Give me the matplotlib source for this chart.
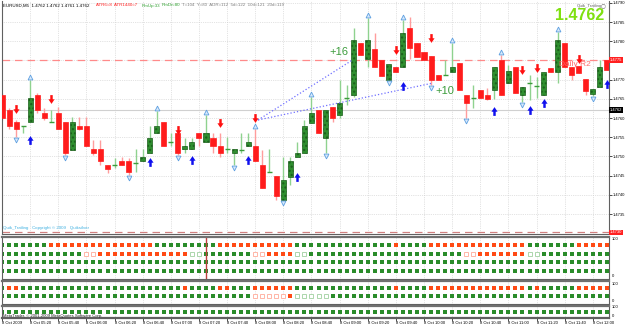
import numpy as np
import matplotlib
matplotlib.use("Agg")
import matplotlib.pyplot as plt
from matplotlib.path import Path
from matplotlib.patches import Rectangle
from matplotlib.transforms import ScaledTranslation

plt.rcParams["font.family"] = ["Liberation Sans", "DejaVu Sans"]

# EURUSD M5, 8 Oct 2009 05:00 .. 12:10
opens = [1.47660, 1.47621, 1.47590, 1.47579, 1.47590, 1.47660, 1.47613, 1.47590, 1.47613, 1.47590,
         1.47517, 1.47579, 1.47579, 1.47519, 1.47519, 1.47478, 1.47478, 1.47488, 1.47488, 1.47483,
         1.47488, 1.47509, 1.47561, 1.47590, 1.47538, 1.47561, 1.47519, 1.47519, 1.47561, 1.47538,
         1.47548, 1.47527, 1.47519, 1.47509, 1.47517, 1.47527, 1.47527, 1.47478, 1.47459, 1.47449,
         1.47386, 1.47446, 1.47498, 1.47509, 1.47587, 1.47621, 1.47548, 1.47629, 1.47608, 1.47652,
         1.47660, 1.47795, 1.47754, 1.47780, 1.47751, 1.47699, 1.47733, 1.47733, 1.47834, 1.47795,
         1.47772, 1.47761, 1.47712, 1.47712, 1.47720, 1.47743, 1.47660, 1.47652, 1.47673, 1.47660,
         1.47673, 1.47751, 1.47691, 1.47733, 1.47660, 1.47691, 1.47683, 1.47660, 1.47730, 1.47720,
         1.47795, 1.47733, 1.47735, 1.47702, 1.47662, 1.47681, 1.47751]
highs = [1.47665, 1.47626, 1.47595, 1.47579, 1.47699, 1.47665, 1.47626, 1.47621, 1.47629, 1.47590,
         1.47603, 1.47603, 1.47603, 1.47543, 1.47543, 1.47478, 1.47496, 1.47498, 1.47496, 1.47519,
         1.47519, 1.47579, 1.47618, 1.47590, 1.47561, 1.47561, 1.47548, 1.47548, 1.47561, 1.47608,
         1.47561, 1.47561, 1.47551, 1.47519, 1.47561, 1.47561, 1.47571, 1.47517, 1.47519, 1.47449,
         1.47498, 1.47498, 1.47538, 1.47595, 1.47655, 1.47621, 1.47621, 1.47629, 1.47699, 1.47686,
         1.47834, 1.47795, 1.47860, 1.47821, 1.47751, 1.47741, 1.47733, 1.47855, 1.47863, 1.47795,
         1.47772, 1.47761, 1.47712, 1.47751, 1.47795, 1.47743, 1.47660, 1.47686, 1.47673, 1.47678,
         1.47733, 1.47764, 1.47738, 1.47733, 1.47681, 1.47712, 1.47707, 1.47720, 1.47730, 1.47824,
         1.47795, 1.47733, 1.47735, 1.47702, 1.47676, 1.47751, 1.47751]
lows = [1.47595, 1.47571, 1.47551, 1.47561, 1.47590, 1.47613, 1.47595, 1.47590, 1.47571, 1.47504,
        1.47517, 1.47569, 1.47527, 1.47504, 1.47478, 1.47457, 1.47470, 1.47478, 1.47452, 1.47459,
        1.47488, 1.47509, 1.47561, 1.47527, 1.47527, 1.47504, 1.47509, 1.47519, 1.47527, 1.47538,
        1.47509, 1.47498, 1.47509, 1.47478, 1.47509, 1.47527, 1.47488, 1.47418, 1.47459, 1.47386,
        1.47386, 1.47426, 1.47498, 1.47509, 1.47587, 1.47561, 1.47509, 1.47590, 1.47600, 1.47634,
        1.47655, 1.47764, 1.47733, 1.47733, 1.47709, 1.47699, 1.47720, 1.47733, 1.47754, 1.47759,
        1.47751, 1.47686, 1.47699, 1.47712, 1.47720, 1.47673, 1.47600, 1.47626, 1.47652, 1.47647,
        1.47649, 1.47660, 1.47691, 1.47665, 1.47642, 1.47647, 1.47652, 1.47660, 1.47720, 1.47691,
        1.47733, 1.47699, 1.47717, 1.47660, 1.47657, 1.47681, 1.47725]
closes = [1.47600, 1.47579, 1.47571, 1.47579, 1.47652, 1.47621, 1.47600, 1.47590, 1.47571, 1.47509,
          1.47590, 1.47571, 1.47527, 1.47509, 1.47488, 1.47467, 1.47478, 1.47478, 1.47459, 1.47483,
          1.47498, 1.47548, 1.47579, 1.47527, 1.47538, 1.47509, 1.47527, 1.47538, 1.47548, 1.47561,
          1.47527, 1.47509, 1.47519, 1.47519, 1.47517, 1.47538, 1.47488, 1.47418, 1.47459, 1.47397,
          1.47439, 1.47488, 1.47509, 1.47579, 1.47613, 1.47561, 1.47621, 1.47600, 1.47639, 1.47652,
          1.47803, 1.47764, 1.47803, 1.47733, 1.47709, 1.47741, 1.47720, 1.47821, 1.47782, 1.47759,
          1.47751, 1.47699, 1.47699, 1.47712, 1.47733, 1.47673, 1.47639, 1.47652, 1.47652, 1.47649,
          1.47733, 1.47660, 1.47722, 1.47665, 1.47681, 1.47691, 1.47683, 1.47720, 1.47720, 1.47803,
          1.47733, 1.47712, 1.47717, 1.47670, 1.47676, 1.47733, 1.47725]

# signal arrows (bar index, price)
sell_idx = [2, 7, 25, 31, 36, 56, 61, 74, 76, 82]
sell_px = [1.47623, 1.47649, 1.47569, 1.47587, 1.47600, 1.47777, 1.47808, 1.47725, 1.47730, 1.47754]
buy_idx = [4, 21, 27, 35, 42, 57, 70, 75, 77, 86]
buy_px = [1.47543, 1.47485, 1.47491, 1.47491, 1.47446, 1.47683, 1.47618, 1.47621, 1.47639, 1.47689]

# fractals
frac_up = [4, 22, 29, 36, 44, 52, 57, 64, 71, 79]
frac_dn = [2, 9, 18, 25, 33, 40, 46, 55, 61, 66, 74, 84]

# trailing lines from the 08:00 signal
trail_x = [36.4, 49.8, 61.2]
trail_y = [1.47595, 1.47751, 1.47691]

r2_level = 1.47751
bid_level = 1.47621
low_level = 1.47302

price_ticks = [1.4735, 1.4740, 1.4745, 1.4750, 1.4755, 1.4760, 1.4765,
               1.4770, 1.4775, 1.4780, 1.4785, 1.4790]
price_labels = ["1.4735", "1.4740", "1.4745", "1.4750", "1.4755", "1.4760", "1.4765",
                "1.4770", "", "1.4780", "1.4785", "1.4790"]

time_pos = [0, 4, 8, 12, 16, 20, 24, 28, 32, 36, 40, 44, 48, 52, 56, 60, 64, 68, 72, 76, 80, 84]
time_labels = ["8 Oct 2009", "8 Oct 05:20", "8 Oct 05:40", "8 Oct 06:00", "8 Oct 06:20",
               "8 Oct 06:40", "8 Oct 07:00", "8 Oct 07:20", "8 Oct 07:40", "8 Oct 08:00",
               "8 Oct 08:20", "8 Oct 08:40", "8 Oct 09:00", "8 Oct 09:20", "8 Oct 09:40",
               "8 Oct 10:00", "8 Oct 10:20", "8 Oct 10:40", "8 Oct 11:00", "8 Oct 11:20",
               "8 Oct 11:40", "8 Oct 12:00"]

# trend dots: g=up, r=down, o=weak down, h=weak up
tf_row1 = ("ggggggg" "rrrrrrrrrrrrrrr" "ggggggggg" "rrrrrrrrrrr" "gggggggggggggg"
           "r" "gggg" "rrrrrrrrrrrrrr" "ggggggg" "rrrrr")
tf_row2 = ("gggggggggggg" "oo" "rrrrrrrrrrrrr" "hh" "ggggggg" "oo" "rrrr" "hh"
           "gggggggggggggggggggggg" "oo" "rrrrrrr" "hh" "gggggggggg")
tf_row3 = ("gggggggggg" "gggggggggg" "gggggggggg" "gggggggggg" "gggggggggg"
           "gggggggggg" "gggggggggg" "gggggggggg" "ggggggg")
tf_row4 = tf_row3
p2_row1 = ("g" "rr" "ggggggggggggggggggggggg" "r" "gggg" "rr" "ggg" "rrrrrr"
           "gggggggggggggg" "r" "gggg" "rrrrrrrrrrrrrr" "g" "r" "ggggg" "rrrrr")
p2_row2 = ("gggggggggggggggggggggggggggggggggggg" "ooooo" "r" "hhhhh"
           "gggggggggggggggggggggggggggggggggggggggg")
p3_row1 = tf_row3

W, H = 625, 327
fig = plt.figure(figsize=(6.25, 3.27), dpi=100)
fig.patch.set_facecolor("white")
small = 3.2


def box(x0, y0, x1, y1):
    return [x0 / W, 1 - y1 / H, (x1 - x0) / W, (y1 - y0) / H]


ax = fig.add_axes(box(2, 1, 609, 234))
ax1 = fig.add_axes(box(2, 237, 609, 279))
ax2 = fig.add_axes(box(2, 281, 609, 304))
ax3 = fig.add_axes(box(2, 306, 609, 318))

n = len(opens)
xs = np.arange(n)
bw = 0.36
for i in xs:
    o, h, l, c = opens[i], highs[i], lows[i], closes[i]
    bull = c >= o
    ax.vlines(i, l, h, color="#8fd28f" if bull else "#ff9d9d", lw=1, zorder=2)
    if abs(c - o) < 1e-6:
        ax.hlines(o, i - bw, i + bw, color="#3c9c3c", lw=1, zorder=3)
    elif bull:
        ax.add_patch(Rectangle((i - bw, o), 2 * bw, c - o, facecolor="#2f8f2f",
                               edgecolor="#1b5e1b", hatch="....", lw=0.5, zorder=3))
    else:
        ax.add_patch(Rectangle((i - bw, c), 2 * bw, o - c, facecolor="#ff1c1c",
                               edgecolor="#ff1c1c", lw=0.5, zorder=3))

down_arrow = Path([(-0.28, 1), (0.28, 1), (0.28, 0.05), (0.7, 0.05), (0, -1),
                   (-0.7, 0.05), (-0.28, 0.05), (-0.28, 1)], closed=True)
up_arrow = Path([(-0.28, -1), (0.28, -1), (0.28, -0.05), (0.7, -0.05), (0, 1),
                 (-0.7, -0.05), (-0.28, -0.05), (-0.28, -1)], closed=True)
ax.scatter(sell_idx, sell_px, marker=down_arrow, s=40, color="#ff1010", lw=0, zorder=5)
ax.scatter(buy_idx, buy_px, marker=up_arrow, s=40, color="#1010ee", lw=0, zorder=5)

up_off = ax.transData + ScaledTranslation(0, 0.03, fig.dpi_scale_trans)
dn_off = ax.transData + ScaledTranslation(0, -0.03, fig.dpi_scale_trans)
ax.plot(frac_up, [highs[i] for i in frac_up], "^", ms=3.5, mfc="#d6e8fb", mec="#5d9fe0",
        mew=0.6, transform=up_off, zorder=4)
ax.plot(frac_dn, [lows[i] for i in frac_dn], "v", ms=3.5, mfc="#d6e8fb", mec="#5d9fe0",
        mew=0.6, transform=dn_off, zorder=4)

ax.plot([trail_x[0], trail_x[1]], [trail_y[0], trail_y[1]], ls=":", color="#6f6fff", lw=0.9, zorder=4)
ax.plot([trail_x[0], trail_x[2]], [trail_y[0], trail_y[2]], ls=":", color="#6f6fff", lw=0.9, zorder=4)
ax.text(trail_x[1] - 0.6, trail_y[1] + 0.00008, "+16", color="#3c9c3c", fontsize=8,
        ha="right", va="bottom")
ax.text(trail_x[2] + 0.4, trail_y[2] - 0.00008, "+10", color="#3c9c3c", fontsize=8,
        ha="left", va="top")

ax.axhline(r2_level, color="#ff8a8a", lw=0.9, dashes=(6, 4), zorder=1)
ax.axhline(bid_level, color="#d0d0d0", lw=0.8, zorder=1)
ax.axhline(low_level, color="#d08080", lw=0.9, dashes=(6, 4), zorder=1)
ax.text(79.2, r2_level - 0.00003, "Daily R2", color="#ff6a6a", fontsize=6, va="top", ha="left")

ax.set_xlim(0.05, 86.3)
ax.set_ylim(1.47298, 1.47905)
ax.yaxis.tick_right()
ax.set_yticks(price_ticks)
ax.set_yticklabels(price_labels, fontsize=3.0)
ax.tick_params(axis="y", length=2, pad=0.5, width=0.5)
ax.set_xticks(time_pos)
ax.tick_params(axis="x", length=0, labelbottom=False)
ax.grid(True, ls=":", color="#c8c8c8", lw=0.5)
ax.set_axisbelow(True)

for p, txt, bg in [(r2_level, "1.4775", "#ff2020"), (bid_level, "1.4762", "#000000"),
                   (low_level, "1.4730", "#ff2020")]:
    ax.text(1.001, p, txt, transform=ax.get_yaxis_transform(), fontsize=3.0, color="white",
            va="center", ha="left",
            bbox=dict(boxstyle="square,pad=0.2", fc=bg, ec="none"), zorder=6, clip_on=False)

green, red = "#2a8c2a", "#ff4a14"


def dots(a, row, level):
    for i, ch in enumerate(row[:n]):
        if ch == "g":
            a.plot(i, level, "s", ms=2.7, color=green, mew=0)
        elif ch == "r":
            a.plot(i, level, "s", ms=2.7, color=red, mew=0)
        elif ch == "o":
            a.plot(i, level, "s", ms=2.4, mfc="white", mec="#ffaa99", mew=0.6)
        else:
            a.plot(i, level, "s", ms=2.4, mfc="white", mec="#9fd09f", mew=0.6)


dots(ax1, tf_row1, 4)
dots(ax1, tf_row2, 3)
dots(ax1, tf_row3, 2)
dots(ax1, tf_row4, 1)
ax1.set_ylim(0.1, 4.9)
ax1.axvline(29, color="#c04040", lw=1)
dots(ax2, p2_row1, 2)
dots(ax2, p2_row2, 1)
ax2.set_ylim(0.0, 2.9)
dots(ax3, p3_row1, 1)
ax3.set_ylim(0.0, 2.0)

for a in (ax1, ax2, ax3):
    a.set_xlim(0.05, 86.3)
    a.set_yticks([])
    a.set_xticks(time_pos)
    a.tick_params(axis="x", length=0, labelbottom=False)
    a.grid(True, axis="x", ls=":", color="#cccccc", lw=0.5)
    a.set_axisbelow(True)

ax3.tick_params(axis="x", length=2, width=0.5, direction="out", labelbottom=True, pad=0.5)
ax3.set_xticklabels(time_labels, fontsize=3.0, ha="left")

for a in (ax, ax1, ax2, ax3):
    for s in a.spines.values():
        s.set_color("#606060")
        s.set_linewidth(0.8)
for a in (ax1, ax2, ax3):
    a.spines["top"].set_linewidth(1.6)
    a.spines["top"].set_color("#707070")
ax3.spines["bottom"].set_linewidth(1.6)
ax.spines["top"].set_visible(False)

for ytop, ybot in [(239, 276), (284, 301), (307.5, 316)]:
    fig.text(612 / W, 1 - ytop / H, "100", fontsize=3.0, va="center")
    fig.text(612 / W, 1 - ybot / H, "0", fontsize=3.0, va="center")

fig.text(3 / W, 1 - 5.5 / H, "EURUSD,M5  1.4762 1.4762 1.4761 1.4762", fontsize=small, va="center")
fig.text(96 / W, 1 - 5.5 / H, "ATR6=8  ATR1440=7", fontsize=small, va="center", color="#ff2020")
fig.text(142 / W, 1 - 5.5 / H, "RmUp:33", fontsize=small, va="center", color="#30a030")
fig.text(162 / W, 1 - 5.5 / H, "RmDn:80", fontsize=small, va="center", color="#30a030")
fig.text(182 / W, 1 - 5.5 / H, "T=104  Y=80  ADR=112  5d=122  10d=121  20d=119", fontsize=small,
         va="center", color="#808080")
fig.text(577 / W, 1 - 5.5 / H, "Quik_Trailing", fontsize=small, va="center", color="#606060")
fig.text(601 / W, 1 - 5.5 / H, "\u25cb", fontsize=4, va="center", color="#606060",
         family="DejaVu Sans")
fig.text(604 / W, 1 - 16 / H, "1.4762", fontsize=11.5, fontweight="bold",
         color="#7fe010", ha="right", va="center")
fig.text(3 / W, 1 - 228.5 / H, "Quik_Trailing   Copyright \u00a9 2009   Quiksilver", fontsize=small,
         va="center", color="#3aaee0")
fig.text(3 / W, 1 - 316.5 / H, "MetaTrader, \u00a9 2001-2009 MetaQuotes Software Corp.",
         fontsize=3.0, va="center", color="#202020")

fig.savefig("out.png", dpi=100, facecolor="white")
